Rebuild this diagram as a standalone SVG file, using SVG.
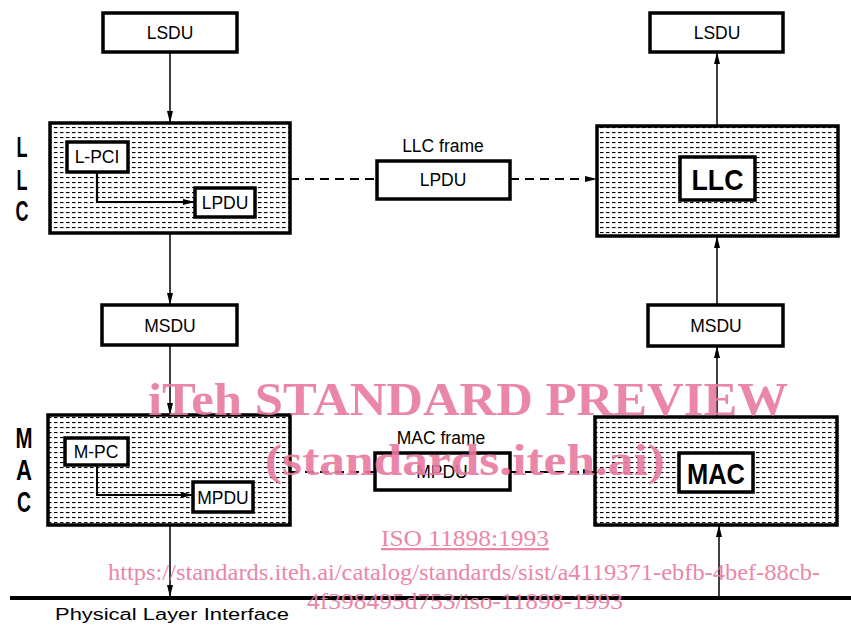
<svg xmlns="http://www.w3.org/2000/svg" width="851" height="626" viewBox="0 0 851 626">
<style>
.box{fill:#fff;stroke:#000;stroke-width:3.5}
.layer{fill:url(#hatch);stroke:#000;stroke-width:3.5}
.ibox{fill:#fff;stroke:#000;stroke-width:3.5}
.t{font-family:"Liberation Sans","DejaVu Sans",sans-serif;font-size:17.5px;fill:#000;text-anchor:middle}
.big{font-family:"Liberation Sans","DejaVu Sans",sans-serif;font-size:30px;font-weight:bold;fill:#000;text-anchor:middle}
.side{font-family:"Liberation Sans","DejaVu Sans",sans-serif;font-size:29px;font-weight:bold;fill:#000;text-anchor:middle}
.ln{stroke:#000;stroke-width:1.5;fill:none}
.dash{stroke:#000;stroke-width:2;fill:none;stroke-dasharray:9 6}
.wm{font-family:"Liberation Serif","DejaVu Serif",serif;fill:#e8799e;text-anchor:middle}
</style>
<defs>
<pattern id="hatch" width="6" height="5" patternUnits="userSpaceOnUse">
<rect x="0" y="2" width="3.5" height="1.1" fill="#000"/>
</pattern>
<marker id="ah" viewBox="0 0 12 6" refX="12" refY="3" markerWidth="12" markerHeight="6" markerUnits="userSpaceOnUse" orient="auto">
<path d="M0,0 L12,3 L0,6 Z" fill="#000"/>
</marker>
</defs>

<g id="connectors">
<line class="ln" x1="170" y1="52" x2="170" y2="123" marker-end="url(#ah)"/>
<line class="ln" x1="170" y1="233" x2="170" y2="305" marker-end="url(#ah)"/>
<line class="ln" x1="170" y1="345" x2="170" y2="415" marker-end="url(#ah)"/>
<line class="ln" x1="170" y1="525" x2="170" y2="597" marker-end="url(#ah)"/>
<line class="ln" x1="717" y1="127" x2="717" y2="52" marker-end="url(#ah)"/>
<line class="ln" x1="717" y1="305" x2="717" y2="236" marker-end="url(#ah)"/>
<line class="ln" x1="717" y1="417" x2="717" y2="346" marker-end="url(#ah)"/>
<line class="ln" x1="719" y1="597" x2="719" y2="525" marker-end="url(#ah)"/>
<line class="dash" x1="290" y1="179" x2="377" y2="179"/>
<line class="dash" x1="510" y1="179" x2="597" y2="179" marker-end="url(#ah)"/>
<line class="dash" x1="290" y1="472" x2="375" y2="472"/>
<line class="dash" x1="510" y1="472" x2="595" y2="472" marker-end="url(#ah)"/>
</g>

<g id="lsdu-left"><rect class="box" x="103" y="13" width="134" height="39"/><text class="t" x="170" y="39">LSDU</text></g>
<g id="lsdu-right"><rect class="box" x="650" y="13" width="133" height="39"/><text class="t" x="717" y="39">LSDU</text></g>

<g id="llc-left">
<rect class="layer" x="50" y="123" width="240" height="110"/>
<rect class="ibox" x="67" y="142" width="61" height="30"/>
<text class="t" x="97" y="163">L-PCI</text>
<rect class="ibox" x="195" y="188" width="60" height="29"/>
<text class="t" x="225" y="209">LPDU</text>
<path d="M97,172 V202 H195" fill="none" stroke="#000" stroke-width="2.2" marker-end="url(#ah)"/>
</g>
<g id="llc-right">
<rect class="layer" x="597" y="126" width="241" height="110"/>
<rect class="ibox" x="680" y="157" width="75" height="43"/>
<text class="big" x="717.5" y="190" textLength="52" lengthAdjust="spacingAndGlyphs">LLC</text>
</g>

<g id="llc-frame">
<text class="t" x="443" y="152">LLC frame</text>
<rect class="box" x="377" y="161" width="133" height="38"/>
<text class="t" x="443" y="186">LPDU</text>
</g>

<g id="msdu-left"><rect class="box" x="102" y="305" width="135" height="40"/><text class="t" x="170" y="332">MSDU</text></g>
<g id="msdu-right"><rect class="box" x="648" y="305" width="135" height="41"/><text class="t" x="716" y="332">MSDU</text></g>

<g id="mac-left">
<rect class="layer" x="48" y="415" width="242" height="110"/>
<rect class="ibox" x="65" y="438" width="63" height="27"/>
<text class="t" x="96" y="458">M-PC</text>
<rect class="ibox" x="193" y="482" width="60" height="30"/>
<text class="t" x="223" y="504">MPDU</text>
<path d="M97,465 V495 H193" fill="none" stroke="#000" stroke-width="2" marker-end="url(#ah)"/>
</g>
<g id="mac-right">
<rect class="layer" x="595" y="417" width="242" height="108"/>
<rect class="ibox" x="679" y="453" width="74" height="39"/>
<text class="big" x="716" y="484" textLength="58" lengthAdjust="spacingAndGlyphs">MAC</text>
</g>

<g id="mac-frame">
<text class="t" x="441" y="444">MAC frame</text>
<rect class="box" x="375" y="453" width="135" height="37"/>
<text class="t" x="442" y="478">MPDU</text>
</g>

<g id="side-labels">
<text class="side" x="22" y="157" textLength="11" lengthAdjust="spacingAndGlyphs">L</text>
<text class="side" x="22" y="190" textLength="11" lengthAdjust="spacingAndGlyphs">L</text>
<text class="side" x="22" y="221" textLength="13" lengthAdjust="spacingAndGlyphs">C</text>
<text class="side" x="24" y="448" textLength="17" lengthAdjust="spacingAndGlyphs">M</text>
<text class="side" x="24" y="480" textLength="16" lengthAdjust="spacingAndGlyphs">A</text>
<text class="side" x="24" y="512" textLength="14" lengthAdjust="spacingAndGlyphs">C</text>
</g>

<g id="physical">
<line x1="10" y1="598" x2="851" y2="598" stroke="#000" stroke-width="4"/>
<text x="55" y="620" font-family="Liberation Sans, DejaVu Sans, sans-serif" font-size="16" textLength="234" lengthAdjust="spacingAndGlyphs">Physical Layer Interface</text>
</g>

<g id="watermark" opacity="0.9">
<text class="wm" x="468" y="415" font-size="46" font-weight="bold" textLength="640" lengthAdjust="spacingAndGlyphs">iTeh STANDARD PREVIEW</text>
<text class="wm" x="465" y="475" font-size="44" font-weight="bold" textLength="400" lengthAdjust="spacingAndGlyphs">(standards.iteh.ai)</text>
<text class="wm" x="465" y="546" font-size="23" text-decoration="underline" textLength="168" lengthAdjust="spacingAndGlyphs">ISO 11898:1993</text>
<text class="wm" x="464" y="580" font-size="24" textLength="712" lengthAdjust="spacingAndGlyphs">https://standards.iteh.ai/catalog/standards/sist/a4119371-ebfb-4bef-88cb-</text>
<text class="wm" x="465" y="609" font-size="24" textLength="316" lengthAdjust="spacingAndGlyphs">4f398495d753/iso-11898-1993</text>
</g>
</svg>
